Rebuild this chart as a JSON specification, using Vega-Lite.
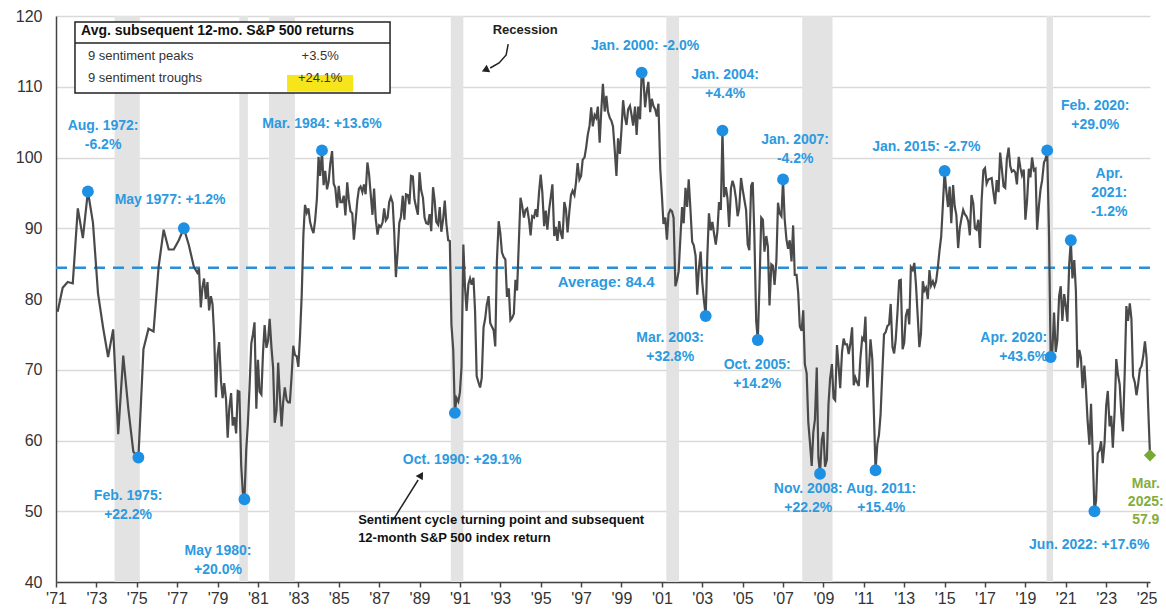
{
"$schema":"https://vega.github.io/schema/vega-lite/v6.json",
"width":1094,"height":566,
"autosize":{"type":"none"},
"padding":{"left":56,"top":16,"right":16,"bottom":33},
"background":"white",
"config":{"view":{"stroke":null},"text":{"font":"Liberation Sans"},"axis":{"labelFont":"Liberation Sans"}},
"datasets":{
"rec":[{"s":1973.9,"e":1975.15},{"s":1980.08,"e":1980.5},{"s":1981.55,"e":1982.83},{"s":1990.55,"e":1991.17},{"s":2001.22,"e":2001.85},{"s":2007.95,"e":2009.45},{"s":2020.05,"e":2020.37}],
"sent":[
{"t":1971.08,"v":78.2},{"t":1971.33,"v":81.6},{"t":1971.58,"v":82.4},{"t":1971.83,"v":82.2},
{"t":1972.08,"v":92.8},{"t":1972.33,"v":88.6},{"t":1972.58,"v":95.2},{"t":1972.83,"v":90.8},
{"t":1973.08,"v":80.8},{"t":1973.33,"v":76.0},{"t":1973.58,"v":71.8},{"t":1973.83,"v":75.7},
{"t":1974.08,"v":60.9},{"t":1974.33,"v":72.0},{"t":1974.58,"v":64.5},{"t":1974.83,"v":58.4},
{"t":1975.08,"v":57.6},{"t":1975.33,"v":72.9},{"t":1975.58,"v":75.8},{"t":1975.83,"v":75.4},
{"t":1976.08,"v":84.5},{"t":1976.33,"v":89.8},{"t":1976.58,"v":87.0},{"t":1976.83,"v":87.0},
{"t":1977.08,"v":88.3},{"t":1977.33,"v":90.0},{"t":1977.58,"v":87.6},{"t":1977.83,"v":84.5},
{"t":1978,"v":83.7},{"t":1978.08,"v":84.3},{"t":1978.17,"v":78.8},{"t":1978.25,"v":81.6},{"t":1978.33,"v":82.9},{"t":1978.42,"v":80.0},{"t":1978.5,"v":82.4},{"t":1978.58,"v":78.4},{"t":1978.67,"v":80.4},{"t":1978.75,"v":79.3},{"t":1978.83,"v":75.0},{"t":1978.92,"v":66.1},
{"t":1979,"v":72.1},{"t":1979.08,"v":73.9},{"t":1979.17,"v":68.4},{"t":1979.25,"v":66.0},{"t":1979.33,"v":68.1},{"t":1979.42,"v":65.8},{"t":1979.5,"v":60.4},{"t":1979.58,"v":64.5},{"t":1979.67,"v":66.7},{"t":1979.75,"v":62.1},{"t":1979.83,"v":63.3},{"t":1979.92,"v":61.0},
{"t":1980,"v":67.0},{"t":1980.08,"v":66.9},{"t":1980.17,"v":56.5},{"t":1980.25,"v":52.7},{"t":1980.33,"v":51.7},{"t":1980.42,"v":58.7},{"t":1980.5,"v":62.3},{"t":1980.58,"v":67.3},{"t":1980.67,"v":73.7},{"t":1980.75,"v":75.0},{"t":1980.83,"v":76.7},{"t":1980.92,"v":64.5},
{"t":1981,"v":71.4},{"t":1981.08,"v":66.9},{"t":1981.17,"v":66.5},{"t":1981.25,"v":72.4},{"t":1981.33,"v":76.3},{"t":1981.42,"v":73.1},{"t":1981.5,"v":74.1},{"t":1981.58,"v":77.2},{"t":1981.67,"v":73.1},{"t":1981.75,"v":70.3},{"t":1981.83,"v":62.5},{"t":1981.92,"v":64.3},
{"t":1982,"v":71.0},{"t":1982.08,"v":66.5},{"t":1982.17,"v":62.0},{"t":1982.25,"v":65.5},{"t":1982.33,"v":67.5},{"t":1982.42,"v":65.7},{"t":1982.5,"v":65.4},{"t":1982.58,"v":65.4},{"t":1982.67,"v":69.3},{"t":1982.75,"v":73.4},{"t":1982.83,"v":72.1},{"t":1982.92,"v":71.9},
{"t":1983,"v":70.4},{"t":1983.08,"v":74.6},{"t":1983.17,"v":80.8},{"t":1983.25,"v":89.1},{"t":1983.33,"v":93.3},{"t":1983.42,"v":92.2},{"t":1983.5,"v":92.8},{"t":1983.58,"v":90.9},{"t":1983.67,"v":89.9},{"t":1983.75,"v":89.3},{"t":1983.83,"v":91.1},{"t":1983.92,"v":94.2},
{"t":1984,"v":100.1},{"t":1984.08,"v":97.4},{"t":1984.17,"v":101.0},{"t":1984.25,"v":96.1},{"t":1984.33,"v":98.1},{"t":1984.42,"v":95.5},{"t":1984.5,"v":96.6},{"t":1984.58,"v":99.1},{"t":1984.67,"v":100.9},{"t":1984.75,"v":96.3},{"t":1984.83,"v":95.7},{"t":1984.92,"v":92.9},
{"t":1985,"v":96.0},{"t":1985.08,"v":93.7},{"t":1985.17,"v":93.7},{"t":1985.25,"v":94.6},{"t":1985.33,"v":91.8},{"t":1985.42,"v":96.5},{"t":1985.5,"v":94.0},{"t":1985.58,"v":92.4},{"t":1985.67,"v":92.1},{"t":1985.75,"v":88.4},{"t":1985.83,"v":90.9},{"t":1985.92,"v":93.9},
{"t":1986,"v":95.6},{"t":1986.08,"v":95.9},{"t":1986.17,"v":95.1},{"t":1986.25,"v":96.2},{"t":1986.33,"v":94.8},{"t":1986.42,"v":99.3},{"t":1986.5,"v":97.7},{"t":1986.58,"v":94.9},{"t":1986.67,"v":91.9},{"t":1986.75,"v":95.6},{"t":1986.83,"v":91.4},{"t":1986.92,"v":89.1},
{"t":1987,"v":90.4},{"t":1987.08,"v":90.2},{"t":1987.17,"v":90.8},{"t":1987.25,"v":92.8},{"t":1987.33,"v":91.1},{"t":1987.42,"v":91.5},{"t":1987.5,"v":93.7},{"t":1987.58,"v":94.4},{"t":1987.67,"v":93.6},{"t":1987.75,"v":89.3},{"t":1987.83,"v":83.1},{"t":1987.92,"v":86.8},
{"t":1988,"v":90.8},{"t":1988.08,"v":91.6},{"t":1988.17,"v":94.6},{"t":1988.25,"v":91.2},{"t":1988.33,"v":94.8},{"t":1988.42,"v":94.7},{"t":1988.5,"v":93.4},{"t":1988.58,"v":97.4},{"t":1988.67,"v":97.3},{"t":1988.75,"v":94.1},{"t":1988.83,"v":93.0},{"t":1988.92,"v":91.9},
{"t":1989,"v":97.9},{"t":1989.08,"v":95.4},{"t":1989.17,"v":94.3},{"t":1989.25,"v":91.5},{"t":1989.33,"v":90.7},{"t":1989.42,"v":90.6},{"t":1989.5,"v":92.0},{"t":1989.58,"v":89.6},{"t":1989.67,"v":95.8},{"t":1989.75,"v":93.9},{"t":1989.83,"v":90.9},{"t":1989.92,"v":90.5},
{"t":1990,"v":93.0},{"t":1990.08,"v":89.5},{"t":1990.17,"v":91.3},{"t":1990.25,"v":93.9},{"t":1990.33,"v":90.6},{"t":1990.42,"v":88.3},{"t":1990.5,"v":88.2},{"t":1990.58,"v":76.4},{"t":1990.67,"v":72.8},{"t":1990.75,"v":63.9},{"t":1990.83,"v":66.0},{"t":1990.92,"v":65.5},
{"t":1991,"v":66.8},{"t":1991.08,"v":70.4},{"t":1991.17,"v":87.7},{"t":1991.25,"v":81.8},{"t":1991.33,"v":78.3},{"t":1991.42,"v":82.1},{"t":1991.5,"v":82.9},{"t":1991.58,"v":82.0},{"t":1991.67,"v":83.0},{"t":1991.75,"v":78.3},{"t":1991.83,"v":69.1},{"t":1991.92,"v":68.2},
{"t":1992,"v":67.5},{"t":1992.08,"v":68.8},{"t":1992.17,"v":76.0},{"t":1992.25,"v":77.2},{"t":1992.33,"v":79.2},{"t":1992.42,"v":80.4},{"t":1992.5,"v":76.6},{"t":1992.58,"v":76.1},{"t":1992.67,"v":75.6},{"t":1992.75,"v":73.3},{"t":1992.83,"v":85.3},{"t":1992.92,"v":91.0},
{"t":1993,"v":89.3},{"t":1993.08,"v":86.6},{"t":1993.17,"v":85.9},{"t":1993.25,"v":85.6},{"t":1993.33,"v":80.3},{"t":1993.42,"v":81.5},{"t":1993.5,"v":77.0},{"t":1993.58,"v":77.3},{"t":1993.67,"v":77.9},{"t":1993.75,"v":82.7},{"t":1993.83,"v":81.2},{"t":1993.92,"v":88.2},
{"t":1994,"v":94.3},{"t":1994.08,"v":93.2},{"t":1994.17,"v":91.5},{"t":1994.25,"v":92.6},{"t":1994.33,"v":92.8},{"t":1994.42,"v":91.2},{"t":1994.5,"v":89.0},{"t":1994.58,"v":91.7},{"t":1994.67,"v":91.5},{"t":1994.75,"v":92.7},{"t":1994.83,"v":91.6},{"t":1994.92,"v":95.1},
{"t":1995,"v":97.6},{"t":1995.08,"v":95.1},{"t":1995.17,"v":90.3},{"t":1995.25,"v":92.5},{"t":1995.33,"v":89.8},{"t":1995.42,"v":92.7},{"t":1995.5,"v":94.4},{"t":1995.58,"v":96.2},{"t":1995.67,"v":88.9},{"t":1995.75,"v":90.2},{"t":1995.83,"v":88.2},{"t":1995.92,"v":91.0},
{"t":1996,"v":89.3},{"t":1996.08,"v":88.5},{"t":1996.17,"v":93.7},{"t":1996.25,"v":92.7},{"t":1996.33,"v":89.4},{"t":1996.42,"v":92.4},{"t":1996.5,"v":94.7},{"t":1996.58,"v":95.3},{"t":1996.67,"v":94.7},{"t":1996.75,"v":96.5},{"t":1996.83,"v":99.2},{"t":1996.92,"v":96.9},
{"t":1997,"v":97.4},{"t":1997.08,"v":99.7},{"t":1997.17,"v":100.0},{"t":1997.25,"v":101.4},{"t":1997.33,"v":103.2},{"t":1997.42,"v":104.5},{"t":1997.5,"v":107.1},{"t":1997.58,"v":104.4},{"t":1997.67,"v":106.0},{"t":1997.75,"v":105.6},{"t":1997.83,"v":107.2},{"t":1997.92,"v":102.1},
{"t":1998,"v":106.6},{"t":1998.08,"v":110.4},{"t":1998.17,"v":106.5},{"t":1998.25,"v":108.7},{"t":1998.33,"v":106.5},{"t":1998.42,"v":105.6},{"t":1998.5,"v":105.2},{"t":1998.58,"v":104.4},{"t":1998.67,"v":100.9},{"t":1998.75,"v":97.4},{"t":1998.83,"v":102.7},{"t":1998.92,"v":100.5},
{"t":1999,"v":103.9},{"t":1999.08,"v":108.1},{"t":1999.17,"v":105.7},{"t":1999.25,"v":104.6},{"t":1999.33,"v":106.8},{"t":1999.42,"v":107.3},{"t":1999.5,"v":106.0},{"t":1999.58,"v":104.5},{"t":1999.67,"v":107.2},{"t":1999.75,"v":103.2},{"t":1999.83,"v":107.2},{"t":1999.92,"v":105.4},
{"t":2000,"v":112.0},{"t":2000.08,"v":111.3},{"t":2000.17,"v":107.1},{"t":2000.25,"v":109.2},{"t":2000.33,"v":110.7},{"t":2000.42,"v":106.4},{"t":2000.5,"v":108.3},{"t":2000.58,"v":107.3},{"t":2000.67,"v":106.8},{"t":2000.75,"v":105.8},{"t":2000.83,"v":107.6},{"t":2000.92,"v":98.4},
{"t":2001,"v":94.7},{"t":2001.08,"v":90.6},{"t":2001.17,"v":91.5},{"t":2001.25,"v":88.4},{"t":2001.33,"v":92.0},{"t":2001.42,"v":92.6},{"t":2001.5,"v":92.4},{"t":2001.58,"v":91.5},{"t":2001.67,"v":81.8},{"t":2001.75,"v":82.7},{"t":2001.83,"v":83.9},{"t":2001.92,"v":88.8},
{"t":2002,"v":93.0},{"t":2002.08,"v":90.7},{"t":2002.17,"v":95.7},{"t":2002.25,"v":93.0},{"t":2002.33,"v":96.9},{"t":2002.42,"v":92.4},{"t":2002.5,"v":88.1},{"t":2002.58,"v":87.6},{"t":2002.67,"v":86.1},{"t":2002.75,"v":80.6},{"t":2002.83,"v":84.2},{"t":2002.92,"v":86.7},
{"t":2003,"v":82.4},{"t":2003.08,"v":79.9},{"t":2003.17,"v":77.6},{"t":2003.25,"v":86.0},{"t":2003.33,"v":92.1},{"t":2003.42,"v":89.7},{"t":2003.5,"v":90.9},{"t":2003.58,"v":89.3},{"t":2003.67,"v":87.7},{"t":2003.75,"v":89.6},{"t":2003.83,"v":93.7},{"t":2003.92,"v":92.6},
{"t":2004,"v":103.8},{"t":2004.08,"v":94.4},{"t":2004.17,"v":95.8},{"t":2004.25,"v":94.2},{"t":2004.33,"v":90.2},{"t":2004.42,"v":95.6},{"t":2004.5,"v":96.7},{"t":2004.58,"v":95.9},{"t":2004.67,"v":94.2},{"t":2004.75,"v":91.7},{"t":2004.83,"v":92.8},{"t":2004.92,"v":97.1},
{"t":2005,"v":95.5},{"t":2005.08,"v":94.1},{"t":2005.17,"v":92.6},{"t":2005.25,"v":87.7},{"t":2005.33,"v":86.9},{"t":2005.42,"v":96.0},{"t":2005.5,"v":96.5},{"t":2005.58,"v":89.1},{"t":2005.67,"v":76.9},{"t":2005.75,"v":74.2},{"t":2005.83,"v":81.6},{"t":2005.92,"v":91.5},
{"t":2006,"v":91.2},{"t":2006.08,"v":86.7},{"t":2006.17,"v":88.9},{"t":2006.25,"v":87.4},{"t":2006.33,"v":79.1},{"t":2006.42,"v":84.9},{"t":2006.5,"v":84.7},{"t":2006.58,"v":82.0},{"t":2006.67,"v":85.4},{"t":2006.75,"v":93.6},{"t":2006.83,"v":92.1},{"t":2006.92,"v":91.7},
{"t":2007,"v":96.9},{"t":2007.08,"v":91.3},{"t":2007.17,"v":88.4},{"t":2007.25,"v":87.1},{"t":2007.33,"v":88.3},{"t":2007.42,"v":85.3},{"t":2007.5,"v":90.4},{"t":2007.58,"v":83.4},{"t":2007.67,"v":83.4},{"t":2007.75,"v":80.9},{"t":2007.83,"v":76.1},{"t":2007.92,"v":75.5},
{"t":2008,"v":78.4},{"t":2008.08,"v":70.8},{"t":2008.17,"v":69.5},{"t":2008.25,"v":62.6},{"t":2008.33,"v":59.8},{"t":2008.42,"v":56.4},{"t":2008.5,"v":61.2},{"t":2008.58,"v":63.0},{"t":2008.67,"v":70.3},{"t":2008.75,"v":57.6},{"t":2008.83,"v":55.3},{"t":2008.92,"v":60.1},
{"t":2009,"v":61.2},{"t":2009.08,"v":56.3},{"t":2009.17,"v":57.3},{"t":2009.25,"v":65.1},{"t":2009.33,"v":68.7},{"t":2009.42,"v":70.8},{"t":2009.5,"v":66.0},{"t":2009.58,"v":65.7},{"t":2009.67,"v":73.5},{"t":2009.75,"v":70.6},{"t":2009.83,"v":67.4},{"t":2009.92,"v":72.5},
{"t":2010,"v":74.4},{"t":2010.08,"v":73.6},{"t":2010.17,"v":73.6},{"t":2010.25,"v":72.2},{"t":2010.33,"v":73.6},{"t":2010.42,"v":76.0},{"t":2010.5,"v":67.8},{"t":2010.58,"v":68.9},{"t":2010.67,"v":68.2},{"t":2010.75,"v":67.7},{"t":2010.83,"v":71.6},{"t":2010.92,"v":74.5},
{"t":2011,"v":74.2},{"t":2011.08,"v":77.5},{"t":2011.17,"v":67.5},{"t":2011.25,"v":69.8},{"t":2011.33,"v":74.3},{"t":2011.42,"v":71.5},{"t":2011.5,"v":63.7},{"t":2011.58,"v":55.8},{"t":2011.67,"v":59.5},{"t":2011.75,"v":60.8},{"t":2011.83,"v":63.7},{"t":2011.92,"v":69.9},
{"t":2012,"v":75.0},{"t":2012.08,"v":75.3},{"t":2012.17,"v":76.2},{"t":2012.25,"v":76.4},{"t":2012.33,"v":79.3},{"t":2012.42,"v":73.2},{"t":2012.5,"v":72.3},{"t":2012.58,"v":74.3},{"t":2012.67,"v":78.3},{"t":2012.75,"v":82.6},{"t":2012.83,"v":82.7},{"t":2012.92,"v":72.9},
{"t":2013,"v":73.8},{"t":2013.08,"v":77.6},{"t":2013.17,"v":78.6},{"t":2013.25,"v":76.4},{"t":2013.33,"v":84.5},{"t":2013.42,"v":84.1},{"t":2013.5,"v":85.1},{"t":2013.58,"v":82.1},{"t":2013.67,"v":77.5},{"t":2013.75,"v":73.2},{"t":2013.83,"v":75.1},{"t":2013.92,"v":82.5},
{"t":2014,"v":81.2},{"t":2014.08,"v":81.6},{"t":2014.17,"v":80.0},{"t":2014.25,"v":84.1},{"t":2014.33,"v":81.9},{"t":2014.42,"v":82.5},{"t":2014.5,"v":81.8},{"t":2014.58,"v":82.5},{"t":2014.67,"v":84.6},{"t":2014.75,"v":86.9},{"t":2014.83,"v":88.8},{"t":2014.92,"v":93.6},
{"t":2015,"v":98.1},{"t":2015.08,"v":95.4},{"t":2015.17,"v":93.0},{"t":2015.25,"v":95.9},{"t":2015.33,"v":90.7},{"t":2015.42,"v":96.1},{"t":2015.5,"v":93.1},{"t":2015.58,"v":91.9},{"t":2015.67,"v":87.2},{"t":2015.75,"v":90.0},{"t":2015.83,"v":91.3},{"t":2015.92,"v":92.6},
{"t":2016,"v":92.0},{"t":2016.08,"v":91.7},{"t":2016.17,"v":91.0},{"t":2016.25,"v":89.0},{"t":2016.33,"v":94.7},{"t":2016.42,"v":93.5},{"t":2016.5,"v":90.0},{"t":2016.58,"v":89.8},{"t":2016.67,"v":91.2},{"t":2016.75,"v":87.2},{"t":2016.83,"v":93.8},{"t":2016.92,"v":98.2},
{"t":2017,"v":98.5},{"t":2017.08,"v":96.3},{"t":2017.17,"v":96.9},{"t":2017.25,"v":97.0},{"t":2017.33,"v":97.1},{"t":2017.42,"v":95.0},{"t":2017.5,"v":93.4},{"t":2017.58,"v":96.8},{"t":2017.67,"v":95.1},{"t":2017.75,"v":100.7},{"t":2017.83,"v":98.5},{"t":2017.92,"v":95.9},
{"t":2018,"v":95.7},{"t":2018.08,"v":99.7},{"t":2018.17,"v":101.4},{"t":2018.25,"v":98.8},{"t":2018.33,"v":98.0},{"t":2018.42,"v":98.2},{"t":2018.5,"v":97.9},{"t":2018.58,"v":96.2},{"t":2018.67,"v":100.1},{"t":2018.75,"v":98.6},{"t":2018.83,"v":97.5},{"t":2018.92,"v":98.3},
{"t":2019,"v":91.2},{"t":2019.08,"v":93.8},{"t":2019.17,"v":98.4},{"t":2019.25,"v":97.2},{"t":2019.33,"v":100.0},{"t":2019.42,"v":98.2},{"t":2019.5,"v":98.4},{"t":2019.58,"v":89.8},{"t":2019.67,"v":93.2},{"t":2019.75,"v":95.5},{"t":2019.83,"v":96.8},{"t":2019.92,"v":99.3},
{"t":2020,"v":99.8},{"t":2020.08,"v":101.0},{"t":2020.17,"v":89.1},{"t":2020.25,"v":71.8},{"t":2020.33,"v":72.3},{"t":2020.42,"v":78.1},{"t":2020.5,"v":72.5},{"t":2020.58,"v":74.1},{"t":2020.67,"v":80.4},{"t":2020.75,"v":81.8},{"t":2020.83,"v":76.9},{"t":2020.92,"v":80.7},
{"t":2021,"v":79.0},{"t":2021.08,"v":76.8},{"t":2021.17,"v":84.9},{"t":2021.25,"v":88.3},{"t":2021.33,"v":82.9},{"t":2021.42,"v":85.5},{"t":2021.5,"v":81.2},{"t":2021.58,"v":70.3},{"t":2021.67,"v":72.8},{"t":2021.75,"v":71.7},{"t":2021.83,"v":67.4},{"t":2021.92,"v":70.6},
{"t":2022,"v":67.2},{"t":2022.08,"v":62.8},{"t":2022.17,"v":59.4},{"t":2022.25,"v":65.2},{"t":2022.33,"v":58.4},{"t":2022.42,"v":50.0},{"t":2022.5,"v":51.5},{"t":2022.58,"v":58.2},{"t":2022.67,"v":58.6},{"t":2022.75,"v":59.9},{"t":2022.83,"v":56.8},{"t":2022.92,"v":59.7},
{"t":2023,"v":64.9},{"t":2023.08,"v":67.0},{"t":2023.17,"v":62.0},{"t":2023.25,"v":63.5},{"t":2023.33,"v":59.0},{"t":2023.42,"v":64.2},{"t":2023.5,"v":71.5},{"t":2023.58,"v":69.4},{"t":2023.67,"v":67.9},{"t":2023.75,"v":63.8},{"t":2023.83,"v":61.3},{"t":2023.92,"v":69.7},
{"t":2024,"v":79.0},{"t":2024.08,"v":76.9},{"t":2024.17,"v":79.4},{"t":2024.25,"v":77.2},{"t":2024.33,"v":69.1},{"t":2024.42,"v":68.2},{"t":2024.5,"v":66.4},{"t":2024.58,"v":67.9},{"t":2024.67,"v":70.1},{"t":2024.75,"v":70.5},{"t":2024.83,"v":71.8},{"t":2024.92,"v":74.0},
{"t":2025,"v":71.7},{"t":2025.08,"v":64.7},{"t":2025.17,"v":57.9}
],
"pts":[
{"t":1972.58,"v":95.2},{"t":1977.33,"v":90.0},{"t":1984.17,"v":101.0},{"t":2000,"v":112.0},{"t":2004,"v":103.8},{"t":2007,"v":96.9},{"t":2015,"v":98.1},{"t":2020.08,"v":101.0},{"t":2021.25,"v":88.3},
{"t":1975.08,"v":57.6},{"t":1980.33,"v":51.7},{"t":1990.75,"v":63.9},{"t":2003.17,"v":77.6},{"t":2005.75,"v":74.2},{"t":2008.83,"v":55.3},{"t":2011.58,"v":55.8},{"t":2020.25,"v":71.8},{"t":2022.42,"v":50.0}
],
"lblc":[
{"t":1973.33,"v":105.44,"txt":"Aug. 1972:\n-6.2%"},
{"t":1976.65,"v":94.98,"txt":"May 1977: +1.2%"},
{"t":1984.17,"v":105.72,"txt":"Mar. 1984: +13.6%"},
{"t":2000.17,"v":116.75,"txt":"Jan. 2000: -2.0%"},
{"t":2004.13,"v":112.65,"txt":"Jan. 2004:\n+4.4%"},
{"t":2007.6,"v":103.46,"txt":"Jan. 2007:\n-4.2%"},
{"t":2014.09,"v":102.47,"txt":"Jan. 2015: -2.7%"},
{"t":2022.46,"v":108.27,"txt":"Feb. 2020:\n+29.0%"},
{"t":2023.15,"v":98.66,"txt":"Apr.\n2021:\n-1.2%"},
{"t":2001.41,"v":75.48,"txt":"Mar. 2003:\n+32.8%"},
{"t":2005.72,"v":71.66,"txt":"Oct. 2005:\n+14.2%"},
{"t":1974.57,"v":53.14,"txt":"Feb. 1975:\n+22.2%"},
{"t":1979.02,"v":45.37,"txt":"May 1980:\n+20.0%"},
{"t":1991.11,"v":58.23,"txt":"Oct. 1990: +29.1%"},
{"t":2008.25,"v":54.13,"txt":"Nov. 2008:\n+22.2%"},
{"t":2011.86,"v":54.13,"txt":"Aug. 2011:\n+15.4%"},
{"t":2022.16,"v":46.22,"txt":"Jun. 2022: +17.6%"}
],
"lblr":[{"t":2020.08,"v":75.48,"txt":"Apr. 2020:\n+43.6%"}],
"arr":[
{"t":1993.39,"v":116.04,"g":"a"},{"t":1993.29,"v":114.49,"g":"a"},{"t":1992.94,"v":113.36,"g":"a"},{"t":1992.5,"v":112.65,"g":"a"},
{"t":1987.69,"v":48.76,"g":"b"},{"t":1988.93,"v":54.42,"g":"b"}
]
},
"layer":[
{"data":{"name":"rec"},"mark":{"type":"rect","color":"#e3e3e3"},
 "encoding":{"x":{"field":"s","type":"quantitative"},"x2":{"field":"e"},"y":{"datum":40,"type":"quantitative"},"y2":{"datum":120}}},
{"data":{"values":[{"v":84.4}]},"mark":{"type":"rule","color":"#2a8fd4","strokeWidth":2.5,"strokeDash":[11,8]},
 "encoding":{"y":{"field":"v","type":"quantitative"}}},
{"data":{"name":"sent"},"mark":{"type":"line","color":"#4a4a4a","strokeWidth":2.2},
 "encoding":{
  "x":{"field":"t","type":"quantitative","scale":{"domain":[1971,2025.17],"nice":false,"zero":false},
   "axis":{"title":null,"values":[1971,1973,1975,1977,1979,1981,1983,1985,1987,1989,1991,1993,1995,1997,1999,2001,2003,2005,2007,2009,2011,2013,2015,2017,2019,2021,2023,2025],
    "labelExpr":"\"'\" + substring(toString(datum.value), 2, 4)","labelFontSize":16,"labelColor":"#333333","labelFlush":false,"labelOverlap":false,"grid":false,
    "domainColor":"#444444","domainWidth":1.5,"tickColor":"#444444","tickSize":5,"tickWidth":1.5,"labelPadding":3}},
  "y":{"field":"v","type":"quantitative","scale":{"domain":[40,120],"nice":false,"zero":false},
   "axis":{"title":null,"values":[40,50,60,70,80,90,100,110,120],"labelFontSize":16,"labelColor":"#333333","grid":true,"gridColor":"#d9d9d9","gridWidth":1.5,
    "ticks":false,"domainColor":"#444444","domainWidth":1.5,"labelPadding":14}}}},
{"data":{"values":[{"t":1971.94,"t2":1987.54,"v":119.15,"v2":109.12}]},"mark":{"type":"rect","fill":"white","stroke":"#222222","strokeWidth":1.5},
 "encoding":{"x":{"field":"t","type":"quantitative"},"x2":{"field":"t2"},"y":{"field":"v","type":"quantitative"},"y2":{"field":"v2"}}},
{"data":{"values":[{"t":1982.44,"t2":1985.71,"v":111.66,"v2":109.3}]},"mark":{"type":"rect","fill":"#f6e51a"},
 "encoding":{"x":{"field":"t","type":"quantitative"},"x2":{"field":"t2"},"y":{"field":"v","type":"quantitative"},"y2":{"field":"v2"}}},
{"data":{"values":[{"t":1971.94,"t2":1987.54,"v":116.18}]},"mark":{"type":"rule","color":"#222222","strokeWidth":1.5},
 "encoding":{"x":{"field":"t","type":"quantitative"},"x2":{"field":"t2"},"y":{"field":"v","type":"quantitative"}}},
{"data":{"name":"arr"},"mark":{"type":"line","color":"#222222","strokeWidth":1.5},
 "encoding":{"x":{"field":"t","type":"quantitative"},"y":{"field":"v","type":"quantitative"},"detail":{"field":"g"}}},
{"data":{"values":[{"t":1992.25,"v":112.37}]},"mark":{"type":"point","shape":"triangle-up","filled":true,"color":"#222222","size":70,"angle":245,"opacity":1},
 "encoding":{"x":{"field":"t","type":"quantitative"},"y":{"field":"v","type":"quantitative"}}},
{"data":{"values":[{"t":1989.08,"v":55.12}]},"mark":{"type":"point","shape":"triangle-up","filled":true,"color":"#222222","size":70,"angle":32,"opacity":1},
 "encoding":{"x":{"field":"t","type":"quantitative"},"y":{"field":"v","type":"quantitative"}}},
{"data":{"name":"pts"},"mark":{"type":"point","shape":"circle","filled":true,"color":"#1e90e4","size":140,"opacity":1},
 "encoding":{"x":{"field":"t","type":"quantitative"},"y":{"field":"v","type":"quantitative"}}},
{"data":{"values":[{"t":2025.17,"v":57.9}]},"mark":{"type":"point","shape":"diamond","filled":true,"color":"#78a935","size":150,"opacity":1},
 "encoding":{"x":{"field":"t","type":"quantitative"},"y":{"field":"v","type":"quantitative"}}},
{"data":{"name":"lblc"},"mark":{"type":"text","align":"center","baseline":"top","fontSize":14,"fontWeight":"bold","color":"#2c9ae0","lineBreak":"\n","lineHeight":19},
 "encoding":{"x":{"field":"t","type":"quantitative"},"y":{"field":"v","type":"quantitative"},"text":{"field":"txt","type":"nominal"}}},
{"data":{"name":"lblr"},"mark":{"type":"text","align":"right","baseline":"top","fontSize":14,"fontWeight":"bold","color":"#2c9ae0","lineBreak":"\n","lineHeight":19},
 "encoding":{"x":{"field":"t","type":"quantitative"},"y":{"field":"v","type":"quantitative"},"text":{"field":"txt","type":"nominal"}}},
{"data":{"values":[{"t":1998.24,"v":83.39,"txt":"Average: 84.4"}]},"mark":{"type":"text","align":"center","baseline":"top","fontSize":15,"fontWeight":"bold","color":"#2c9ae0"},
 "encoding":{"x":{"field":"t","type":"quantitative"},"y":{"field":"v","type":"quantitative"},"text":{"field":"txt","type":"nominal"}}},
{"data":{"values":[{"t":2024.96,"v":54.84,"txt":"Mar.\n2025:\n57.9"}]},"mark":{"type":"text","align":"center","baseline":"top","fontSize":14,"fontWeight":"bold","color":"#86ad3a","lineBreak":"\n","lineHeight":18},
 "encoding":{"x":{"field":"t","type":"quantitative"},"y":{"field":"v","type":"quantitative"},"text":{"field":"txt","type":"nominal"}}},
{"data":{"values":[{"t":1994.23,"v":118.87,"txt":"Recession"}]},"mark":{"type":"text","align":"center","baseline":"top","fontSize":13,"fontWeight":"bold","color":"#222222"},
 "encoding":{"x":{"field":"t","type":"quantitative"},"y":{"field":"v","type":"quantitative"},"text":{"field":"txt","type":"nominal"}}},
{"data":{"values":[{"t":1985.96,"v":49.61,"txt":"Sentiment cycle turning point and subsequent\n12-month S&P 500 index return"}]},"mark":{"type":"text","align":"left","baseline":"top","fontSize":13,"fontWeight":"bold","color":"#111111","lineBreak":"\n","lineHeight":18},
 "encoding":{"x":{"field":"t","type":"quantitative"},"y":{"field":"v","type":"quantitative"},"text":{"field":"txt","type":"nominal"}}},
{"data":{"values":[{"t":1972.24,"v":118.87,"txt":"Avg. subsequent 12-mo. S&P 500 returns"}]},"mark":{"type":"text","align":"left","baseline":"top","fontSize":14,"fontWeight":"bold","color":"#111111"},
 "encoding":{"x":{"field":"t","type":"quantitative"},"y":{"field":"v","type":"quantitative"},"text":{"field":"txt","type":"nominal"}}},
{"data":{"values":[{"t":1972.58,"v":115.19,"txt":"9 sentiment peaks"},{"t":1972.58,"v":112.08,"txt":"9 sentiment troughs"}]},"mark":{"type":"text","align":"left","baseline":"top","fontSize":13,"color":"#333333"},
 "encoding":{"x":{"field":"t","type":"quantitative"},"y":{"field":"v","type":"quantitative"},"text":{"field":"txt","type":"nominal"}}},
{"data":{"values":[{"t":1984.08,"v":115.19,"txt":"+3.5%"},{"t":1984.08,"v":112.08,"txt":"+24.1%"}]},"mark":{"type":"text","align":"center","baseline":"top","fontSize":13,"color":"#333333"},
 "encoding":{"x":{"field":"t","type":"quantitative"},"y":{"field":"v","type":"quantitative"},"text":{"field":"txt","type":"nominal"}}}
]
}
